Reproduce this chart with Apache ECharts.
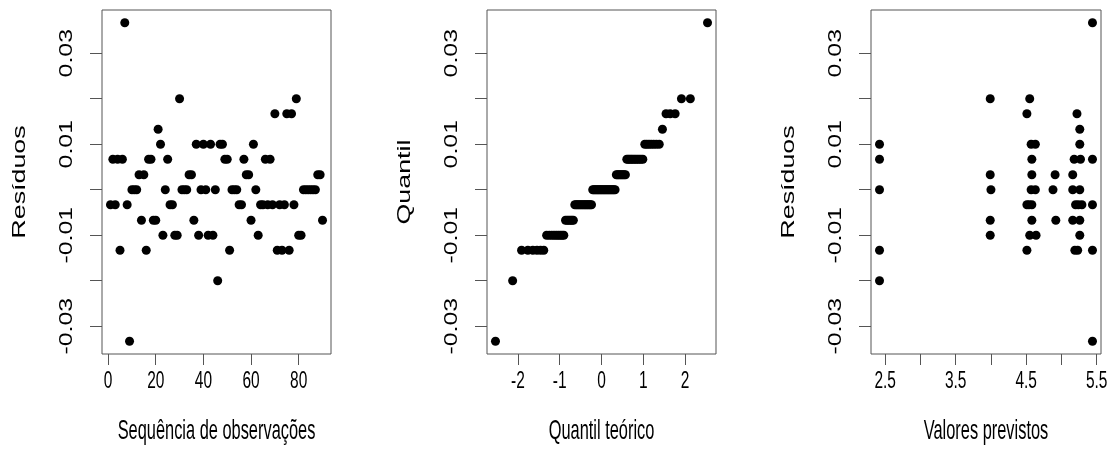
<!DOCTYPE html>
<html>
<head>
<meta charset="utf-8">
<script src="https://cdn.jsdelivr.net/npm/echarts@6/dist/echarts.min.js"></script>
<style>html,body{margin:0;padding:0;background:#fff}#c{width:1113px;height:460px}</style>
</head>
<body>
<div id="c"></div>
<script>
// ---- data ----
// residuals in observation order (1..90)
const residuals = [
 -0.0033, 0.0067, -0.0033, 0.0067, -0.0133, 0.0067, 0.0367, -0.0033, -0.0333, 0,
  0, 0, 0.0033, -0.0067, 0.0033, -0.0133, 0.0067, 0.0067, -0.0067, -0.0067,
  0.0133, 0.01, -0.01, 0, 0.0067, -0.0033, -0.0033, -0.01, -0.01, 0.02,
  0, 0, 0, 0.0033, 0.0033, -0.0067, 0.01, -0.01, 0, 0.01,
  0, -0.01, 0.01, -0.01, 0, -0.02, 0.01, 0.01, 0.0067, 0.0067,
 -0.0133, 0, 0, 0, -0.0033, -0.0033, 0.0067, 0.0033, 0.0033, -0.0067,
  0.01, 0, -0.01, -0.0033, -0.0033, 0.0067, -0.0033, 0.0067, -0.0033, 0.0167,
 -0.0133, -0.0033, -0.0133, -0.0033, 0.0167, -0.0133, 0.0167, -0.0033, 0.02, -0.01,
 -0.01, 0, 0, 0, 0, 0, 0, 0.0033, 0.0033, -0.0067
];
// predicted values vs residuals (distinct visible points)
const fittedValues = [
 2.42, 2.42, 2.42, 2.42, 2.42,
 3.99, 3.99, 4.00, 3.99, 3.99,
 4.55, 4.51, 4.57, 4.63, 4.58, 4.58, 4.57, 4.63, 4.51, 4.54, 4.58, 4.58, 4.55, 4.64, 4.51,
 4.91, 4.88, 4.92,
 5.22, 5.26, 5.26, 5.18, 5.27, 5.16, 5.16, 5.26, 5.20, 5.24, 5.29, 5.16, 5.26, 5.26, 5.19, 5.23,
 5.44, 5.44, 5.44, 5.44, 5.44
];
const fittedResiduals = [
 0.01, 0.0067, 0, -0.0133, -0.02,
 0.02, 0.0033, 0, -0.0067, -0.01,
 0.02, 0.0167, 0.01, 0.01, 0.0067, 0.0033, 0, 0, -0.0033, -0.0033, -0.0033, -0.0067, -0.01, -0.01, -0.0133,
 0.0033, 0, -0.0067,
 0.0167, 0.0133, 0.01, 0.0067, 0.0067, 0.0033, 0, 0, -0.0033, -0.0033, -0.0033, -0.0067, -0.0067, -0.01, -0.0133, -0.0133,
 0.0367, 0.0067, -0.0033, -0.0133, -0.0333
];
// axis ticks and labels
const xTicks1 = [0, 20, 40, 60, 80];
const xTickLabels1 = ['0', '20', '40', '60', '80'];
const xTicks2 = [-2, -1, 0, 1, 2];
const xTickLabels2 = ['-2', '-1', '0', '1', '2'];
const xTicks3 = [2.5, 3, 3.5, 4, 4.5, 5, 5.5];
const xLabelVals3 = [2.5, 3.5, 4.5, 5.5];
const xTickLabels3 = ['2.5', '3.5', '4.5', '5.5'];
const yTicks = [-0.03, -0.02, -0.01, 0, 0.01, 0.02, 0.03];
const yLabelVals = [-0.03, -0.01, 0.01, 0.03];
const yTickLabels = ['-0.03', '-0.01', '0.01', '0.03'];
const xTitles = ['Sequência de observações', 'Quantil teórico', 'Valores previstos'];
const yTitles = ['Resíduos', 'Quantil', 'Resíduos'];

// ---- helpers ----
function qnorm(p){
 const a=[-3.969683028665376e+01,2.209460984245205e+02,-2.759285104469687e+02,1.383577518672690e+02,-3.066479806614716e+01,2.506628277459239e+00];
 const b=[-5.447609879822406e+01,1.615858368580409e+02,-1.556989798598866e+02,6.680131188771972e+01,-1.328068155288572e+01];
 const c=[-7.784894002430293e-03,-3.223964580411365e-01,-2.400758277161838e+00,-2.549732539343734e+00,4.374664141464968e+00,2.938163982698783e+00];
 const d=[7.784695709041462e-03,3.224671290700398e-01,2.445134137142996e+00,3.754408661907416e+00];
 const pl=0.02425, ph=1-pl; let q, r;
 if(p<pl){q=Math.sqrt(-2*Math.log(p));return (((((c[0]*q+c[1])*q+c[2])*q+c[3])*q+c[4])*q+c[5])/((((d[0]*q+d[1])*q+d[2])*q+d[3])*q+1);}
 if(p<=ph){q=p-0.5;r=q*q;return (((((a[0]*r+a[1])*r+a[2])*r+a[3])*r+a[4])*r+a[5])*q/(((((b[0]*r+b[1])*r+b[2])*r+b[3])*r+b[4])*r+1);}
 q=Math.sqrt(-2*Math.log(1-p));return -(((((c[0]*q+c[1])*q+c[2])*q+c[3])*q+c[4])*q+c[5])/((((d[0]*q+d[1])*q+d[2])*q+d[3])*q+1);
}
function rRange(arr){ // R default axis extension (4%)
 const mn=Math.min.apply(null,arr), mx=Math.max.apply(null,arr), e=0.04*(mx-mn);
 return [mn-e, mx+e];
}

// ---- derived tables ----
const n = residuals.length;
const seqData = residuals.map((r,i)=>[i+1, r]);
const sorted = residuals.slice().sort((a,b)=>a-b);
const qqData = sorted.map((r,i)=>[qnorm((i+1-0.5)/n), r]);
const fitData = fittedValues.map((f,i)=>[f, fittedResiduals[i]]);

const yR = rRange(residuals);
const x1R = rRange(seqData.map(d=>d[0]));
const x2R = rRange(qqData.map(d=>d[0]));
const x3R = rRange(fittedValues);

const FF = '"Liberation Sans", Arial, Helvetica, sans-serif';
const BOX = '#555';
const boxes = [
 {left:102, top:10, width:229, height:344},
 {left:487, top:10, width:229, height:344},
 {left:871, top:10, width:230, height:344}
];
const xTickSets = [xTicks1, xTicks2, xTicks3];
const xRanges = [x1R, x2R, x3R];

const grids = boxes.map(b=>Object.assign({show:true, borderColor:BOX, borderWidth:1, backgroundColor:'transparent'}, b));
const xAxes = boxes.map((b,k)=>({
 type:'value', gridIndex:k, position:'bottom', min:xRanges[k][0], max:xRanges[k][1],
 axisLine:{show:false, onZero:false}, splitLine:{show:false}, axisLabel:{show:false},
 axisTick:{show:true, inside:false, customValues:xTickSets[k], length:11, lineStyle:{color:BOX, width:1}}
}));
const yAxes = boxes.map((b,k)=>({
 type:'value', gridIndex:k, position:'left', min:yR[0], max:yR[1],
 axisLine:{show:false, onZero:false}, splitLine:{show:false}, axisLabel:{show:false},
 axisTick:{show:true, inside:false, customValues:yTicks, length:12, lineStyle:{color:BOX, width:1}}
}));
const datasets = [seqData, qqData, fitData];
const series = datasets.map((d,k)=>({
 type:'scatter', xAxisIndex:k, yAxisIndex:k, data:d, symbol:'circle', symbolSize:9,
 itemStyle:{color:'#000', opacity:1}, silent:true, animation:false
}));

const chart = echarts.init(document.getElementById('c'), null, {renderer:'canvas', width:1113, height:460});
chart.setOption({animation:false, backgroundColor:'#fff', grid:grids, xAxis:xAxes, yAxis:yAxes, series:series});

// ---- text (stretched vertically like the reference) ----
const TICK_FS = 15.5, TICK_S = 1.6, VTICK_FS = 18, VTICK_S = 1.38;
const TITLE_FS = 16.4, TITLE_S = 1.64, VTITLE_FS = 18.5, VTITLE_S = 1.45;
const g = [];
function hText(text, x, y, fs, s){
 g.push({type:'text', x:x, y:y, scaleY:s, silent:true,
  style:{text:text, fontSize:fs, fontFamily:FF, fill:'#000', align:'center', verticalAlign:'middle', textAlign:'center', textVerticalAlign:'middle'}});
}
function vText(text, x, y, fs, s){
 g.push({type:'text', x:x, y:y, rotation:Math.PI/2, scaleX:s, silent:true,
  style:{text:text, fontSize:fs, fontFamily:FF, fill:'#000', align:'center', verticalAlign:'middle', textAlign:'center', textVerticalAlign:'middle'}});
}
const xLabelSets = [[xTicks1, xTickLabels1], [xTicks2, xTickLabels2], [xLabelVals3, xTickLabels3]];
boxes.forEach((b,k)=>{
 const bottom = b.top + b.height;
 xLabelSets[k][0].forEach((v,i)=>{
  const p = chart.convertToPixel({gridIndex:k}, [v, 0]);
  hText(xLabelSets[k][1][i], p[0], bottom + 27, TICK_FS, TICK_S);
 });
 yLabelVals.forEach((v,i)=>{
  const p = chart.convertToPixel({gridIndex:k}, [xRanges[k][0], v]);
  vText(yTickLabels[i], b.left - 35, p[1], VTICK_FS, VTICK_S);
 });
 hText(xTitles[k], b.left + b.width/2, bottom + 78, TITLE_FS, TITLE_S);
 vText(yTitles[k], b.left - 82, b.top + b.height/2, VTITLE_FS, VTITLE_S);
});
chart.setOption({graphic:{elements:g}});
</script>
</body>
</html>
